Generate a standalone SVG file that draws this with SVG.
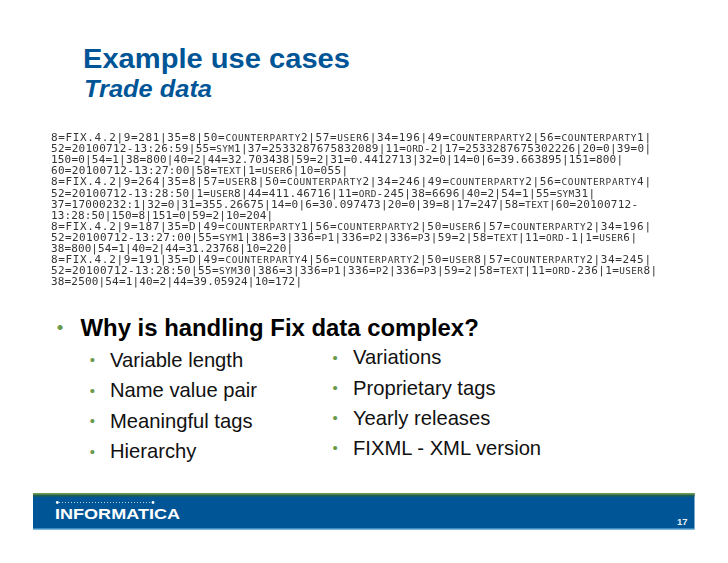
<svg xmlns="http://www.w3.org/2000/svg" width="728" height="563" viewBox="0 0 728 563">
<style>
text{font-family:"Liberation Sans",Arial,sans-serif}
.t{font-weight:bold;fill:#005596}
.h{font-size:28px}
.s{font-size:24px;font-style:italic}
.m{font-family:"DejaVu Sans Mono","Liberation Mono",monospace;font-size:11px;fill:#333}
.m tspan{font-size:9.4px}
.b{font-size:20.2px;fill:#111}
.d{font-size:15px;fill:#6a9a4a}
</style>
<defs><filter id="soft" x="-2%" y="-10%" width="104%" height="120%"><feGaussianBlur stdDeviation="0.3"/></filter></defs>
<rect width="728" height="563" fill="#fff"/>
<g id="title">
<text class="t h" x="83" y="68" textLength="267" lengthAdjust="spacingAndGlyphs">Example use cases</text>
<text class="t s" x="84" y="97" textLength="128" lengthAdjust="spacingAndGlyphs">Trade data</text>
</g>
<g id="fix-data" filter="url(#soft)">
<text class="m" x="51" y="141" textLength="600">8=FIX.4.2|9=281|35=8|50=<tspan>COUNTERPARTY</tspan>2|57=<tspan>USER</tspan>6|34=196|49=<tspan>COUNTERPARTY</tspan>2|56=<tspan>COUNTERPARTY</tspan>1|</text>
<text class="m" x="51" y="152.1" textLength="600">52=20100712-13:26:59|55=<tspan>SYM</tspan>1|37=2533287675832089|11=<tspan>ORD</tspan>-2|17=2533287675302226|20=0|39=0|</text>
<text class="m" x="51" y="163.2" textLength="572">150=0|54=1|38=800|40=2|44=32.703438|59=2|31=0.4412713|32=0|14=0|6=39.663895|151=800|</text>
<text class="m" x="51" y="174.3" textLength="297">60=20100712-13:27:00|58=<tspan>TEXT</tspan>|1=<tspan>USER</tspan>6|10=055|</text>
<text class="m" x="51" y="185.4" textLength="600">8=FIX.4.2|9=264|35=8|57=<tspan>USER</tspan>8|50=<tspan>COUNTERPARTY</tspan>2|34=246|49=<tspan>COUNTERPARTY</tspan>2|56=<tspan>COUNTERPARTY</tspan>4|</text>
<text class="m" x="51" y="196.5" textLength="544">52=20100712-13:28:50|1=<tspan>USER</tspan>8|44=411.46716|11=<tspan>ORD</tspan>-245|38=6696|40=2|54=1|55=<tspan>SYM</tspan>31|</text>
<text class="m" x="51" y="207.6" textLength="587">37=17000232:1|32=0|31=355.26675|14=0|6=30.097473|20=0|39=8|17=247|58=<tspan>TEXT</tspan>|60=20100712-</text>
<text class="m" x="51" y="218.7" textLength="222">13:28:50|150=8|151=0|59=2|10=204|</text>
<text class="m" x="51" y="229.8" textLength="600">8=FIX.4.2|9=187|35=D|49=<tspan>COUNTERPARTY</tspan>1|56=<tspan>COUNTERPARTY</tspan>2|50=<tspan>USER</tspan>6|57=<tspan>COUNTERPARTY</tspan>2|34=196|</text>
<text class="m" x="51" y="240.9" textLength="586">52=20100712-13:27:00|55=<tspan>SYM</tspan>1|386=3|336=<tspan>P</tspan>1|336=<tspan>P</tspan>2|336=<tspan>P</tspan>3|59=2|58=<tspan>TEXT</tspan>|11=<tspan>ORD</tspan>-1|1=<tspan>USER</tspan>6|</text>
<text class="m" x="51" y="252" textLength="242">38=800|54=1|40=2|44=31.23768|10=220|</text>
<text class="m" x="51" y="263.1" textLength="600">8=FIX.4.2|9=191|35=D|49=<tspan>COUNTERPARTY</tspan>4|56=<tspan>COUNTERPARTY</tspan>2|50=<tspan>USER</tspan>8|57=<tspan>COUNTERPARTY</tspan>2|34=245|</text>
<text class="m" x="51" y="274.2" textLength="606">52=20100712-13:28:50|55=<tspan>SYM</tspan>30|386=3|336=<tspan>P</tspan>1|336=<tspan>P</tspan>2|336=<tspan>P</tspan>3|59=2|58=<tspan>TEXT</tspan>|11=<tspan>ORD</tspan>-236|1=<tspan>USER</tspan>8|</text>
<text class="m" x="51" y="285.3" textLength="251">38=2500|54=1|40=2|44=39.05924|10=172|</text>
</g>
<g id="bullets">
<text class="d" x="56.7" y="333.6" style="font-size:19px">•</text>
<text x="80.5" y="336" style="font-size:23.9px;font-weight:bold;fill:#000">Why is handling Fix data complex?</text>
<g id="left-list">
<text class="d" x="89.7" y="365.3">•</text><text class="b" x="110" y="367">Variable length</text>
<text class="d" x="89.7" y="395.8">•</text><text class="b" x="110" y="397">Name value pair</text>
<text class="d" x="89.7" y="426.3">•</text><text class="b" x="110" y="428">Meaningful tags</text>
<text class="d" x="89.7" y="456.8">•</text><text class="b" x="110" y="458">Hierarchy</text>
</g>
<g id="right-list">
<text class="d" x="332.4" y="362.6">•</text><text class="b" x="353" y="364">Variations</text>
<text class="d" x="332.4" y="393.3">•</text><text class="b" x="353" y="395">Proprietary tags</text>
<text class="d" x="332.4" y="423.3">•</text><text class="b" x="353" y="425">Yearly releases</text>
<text class="d" x="332.4" y="453.3">•</text><text class="b" x="353" y="455">FIXML - XML version</text>
</g>
</g>
<g id="footer">
<rect x="33" y="493" width="661.5" height="36.5" fill="#005596"/>
<rect x="33" y="493" width="661.5" height="1.8" fill="#6d9a4c"/>
<rect x="33" y="494.8" width="661.5" height="1.8" fill="#1f5e50"/>
<rect x="33" y="528.5" width="661.5" height="1.2" fill="#7cc0e6"/>
<line x1="59" y1="502.5" x2="152" y2="502.5" stroke="#b9cfe2" stroke-width="1" stroke-dasharray="1 2"/>
<circle cx="57.3" cy="502.5" r="1.4" fill="#fff"/><circle cx="153" cy="502.5" r="1.4" fill="#fff"/>
<text x="55" y="519" textLength="125" lengthAdjust="spacingAndGlyphs" style="font-size:15.5px;font-weight:bold;fill:#fff">INFORMATICA</text>
<text x="677" y="524.5" style="font-size:9.5px;font-weight:bold;fill:#e4eef6">17</text>
</g>
</svg>
